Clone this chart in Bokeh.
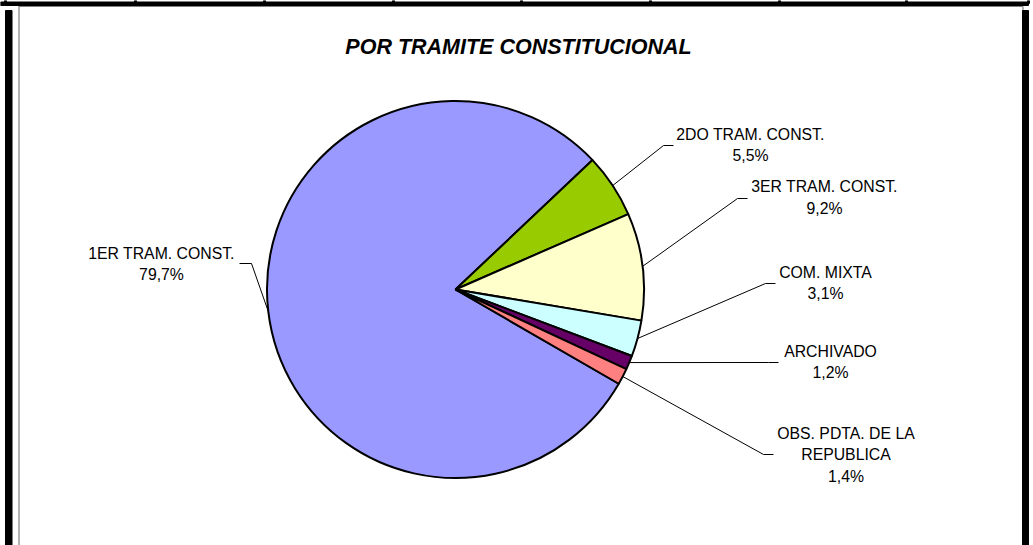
import math
from bokeh.plotting import figure
from bokeh.models import Range1d
from bokeh.core.properties import value
from bokeh.embed import file_html
from bokeh.resources import INLINE

# ---- data ----
categories = ["1ER TRAM. CONST.", "2DO TRAM. CONST.", "3ER TRAM. CONST.",
              "COM. MIXTA", "ARCHIVADO", "OBS. PDTA. DE LA\nREPUBLICA"]
percentages = [79.7, 5.5, 9.2, 3.1, 1.2, 1.4]
colors = ["#9999FF", "#99CC00", "#FFFFCC", "#CCFFFF", "#660066", "#FF8080"]
title_text = "POR TRAMITE CONSTITUCIONAL"

# ---- layout (page pixel coordinates) ----
W, H = 1033, 545
def Y(py):
    return H - py

CX, CY, R = 455, 289, 188.5
START = 330.0
FONT = value("Liberation Sans")
LABEL_SIZE = "15.8px"
LINE_STEP = 21.5

# label anchor (center of first line) and leader elbow/end per category
label_pos = [(161, 252.5), (750, 133.5), (824, 186), (825, 271.5), (830, 350.5), (845.5, 432.5)]
leader_elbow = [(251, 263), (663, 145), (737, 198), (765, 283), (768, 362), (763, 454)]
leader_end = [(239, 263), (673, 145), (747, 198), (775, 283), (778, 362), (773, 454)]

total = sum(percentages)
starts, ends, mids = [], [], []
acc = 0.0
for v in percentages:
    a0 = START - acc / total * 360.0
    acc += v
    a1 = START - acc / total * 360.0
    starts.append(a0)
    ends.append(a1)
    mids.append((a0 + a1) / 2.0)

p = figure(width=W, height=H, x_range=Range1d(0, W), y_range=Range1d(0, H),
           output_backend="svg", toolbar_location=None, min_border=0,
           x_axis_location=None, y_axis_location=None)
p.grid.visible = False
p.outline_line_color = None
p.background_fill_color = "white"
p.border_fill_color = "white"

# ---- frame (spreadsheet cell borders + chart area border) ----
ticks = [5, 135, 264, 393, 521, 650, 779, 906, 1028]
p.quad(left=[t - 1 for t in ticks], right=[t + 1 for t in ticks],
       top=[Y(0)] * len(ticks), bottom=[Y(3)] * len(ticks), color="black")
p.quad(left=[0], right=[1028], top=[Y(1.5)], bottom=[Y(5)], color="black")
p.segment(x0=[18, 18.5, 1022.5], y0=[Y(6), Y(6), Y(6)],
          x1=[1022.5, 18.5, 1022.5], y1=[Y(6), Y(545), Y(545)],
          line_color="#808080", line_width=1.2)
p.quad(left=[5, 1022], right=[11.5, 1028], top=[Y(10), Y(10)], bottom=[Y(545), Y(545)],
       color="black")

# ---- title ----
p.text(x=[518], y=[Y(46)], text=[title_text], text_font=FONT,
       text_font_size="21.5px", text_font_style="bold italic",
       text_align="center", text_baseline="middle", text_color="black")

# ---- pie ----
n = len(percentages)
p.wedge(x=[CX] * n, y=[Y(CY)] * n, radius=R, start_angle=starts, end_angle=ends,
        start_angle_units="deg", end_angle_units="deg", direction="clock",
        fill_color=colors, line_color="black", line_width=2)

# ---- leader lines ----
xs, ys = [], []
for i in range(n):
    a = math.radians(mids[i])
    ax, ay = CX + R * math.cos(a), CY - R * math.sin(a)
    ex, ey = leader_elbow[i]
    fx, fy = leader_end[i]
    xs.append([ax, ex, fx])
    ys.append([Y(ay), Y(ey), Y(fy)])
p.multi_line(xs=xs, ys=ys, line_color="black", line_width=1)

# ---- labels ----
tx, ty, tt = [], [], []
for i in range(n):
    lines = categories[i].split("\n") + [("%.1f%%" % percentages[i]).replace(".", ",")]
    lx, ly = label_pos[i]
    for k, s in enumerate(lines):
        tx.append(lx)
        ty.append(Y(ly + k * LINE_STEP))
        tt.append(s)
p.text(x=tx, y=ty, text=tt, text_font=FONT, text_font_size=LABEL_SIZE,
       text_align="center", text_baseline="middle", text_color="black")

open("out.html", "w").write(file_html(p, INLINE))
